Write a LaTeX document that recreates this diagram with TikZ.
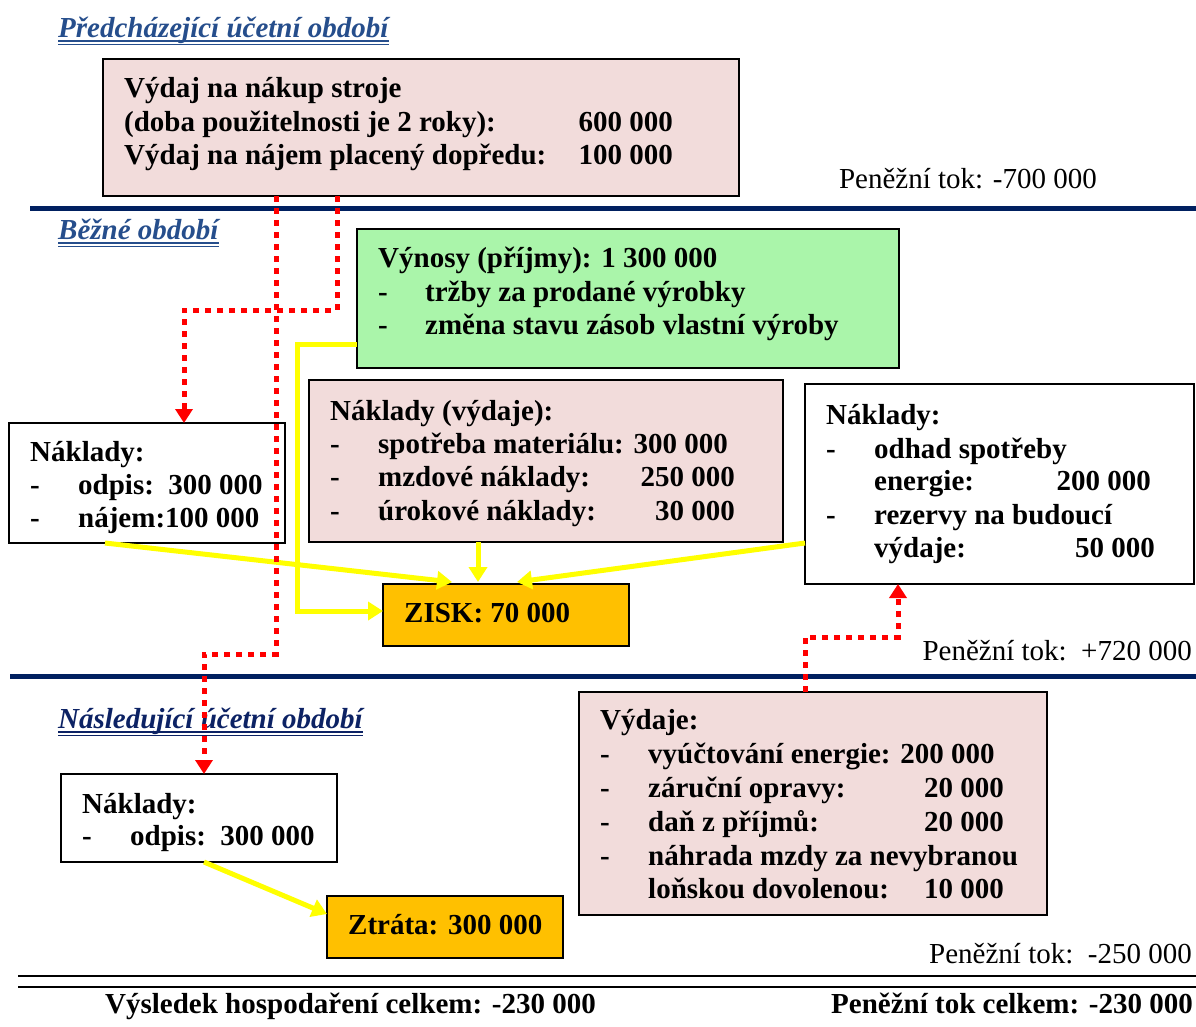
\documentclass[tikz,border=0pt]{standalone}
\usepackage{fontspec}
\setmainfont{Liberation Serif}
\usetikzlibrary{arrows.meta,calc}
\definecolor{pinkbox}{RGB}{242,220,219}
\definecolor{greenbox}{RGB}{170,245,170}
\definecolor{orangebox}{RGB}{255,192,0}
\definecolor{navy}{RGB}{0,32,96}
\definecolor{titleA}{RGB}{38,78,140}
\definecolor{titleB}{RGB}{12,34,100}
\definecolor{yel}{RGB}{255,255,0}
\definecolor{redd}{RGB}{255,0,0}
\begin{document}
\begin{tikzpicture}[x=1pt,y={(0pt,-1pt)},
  box/.style={draw=black, line width=1.5pt, inner sep=0pt, outer sep=0pt, anchor=north west},
  txt/.style={inner sep=0pt, anchor=base west, font=\fontsize{29}{33}\selectfont\bfseries},
  num/.style={inner sep=0pt, anchor=base east, font=\fontsize{29}{33}\selectfont\bfseries},
  reg/.style={inner sep=0pt, anchor=base east, font=\fontsize{29}{33}\selectfont},
  ttl/.style={inner sep=0pt, anchor=base west, font=\fontsize{29}{33}\selectfont\bfseries\itshape},
  navyline/.style={navy, line width=5pt},
  blackline/.style={black, line width=2.5pt},
  reddot/.style={redd, line width=5pt, dash pattern=on 6pt off 6pt, -{Triangle[width=17pt,length=14pt]}},
  yelarrow/.style={yel, line width=5pt, -{Triangle[width=18pt,length=15pt]}}
]
\useasboundingbox (0,0) rectangle (1196,1026);

% separator lines
\draw[navyline] (30,208) -- (1196,208);
\draw[navyline] (10,676) -- (1196,676);
\draw[blackline] (18,976) -- (1196,976);
\draw[blackline] (18,987) -- (1196,987);

% titles
\node[ttl, text=titleA] (t1) at (58,37) {Předcházející účetní období};
\draw[titleA, line width=1.5pt] ($(t1.base west)+(0,4)$) -- ($(t1.base east)+(0,4)$);
\draw[titleA, line width=1.5pt] ($(t1.base west)+(0,7.5)$) -- ($(t1.base east)+(0,7.5)$);
\node[ttl, text=titleA] (t2) at (58,239) {Běžné období};
\draw[titleA, line width=1.5pt] ($(t2.base west)+(0,4)$) -- ($(t2.base east)+(0,4)$);
\draw[titleA, line width=1.5pt] ($(t2.base west)+(0,7.5)$) -- ($(t2.base east)+(0,7.5)$);
\node[ttl, text=titleB] (t3) at (58,728) {Následující účetní období};
\draw[titleB, line width=1.5pt] ($(t3.base west)+(0,4)$) -- ($(t3.base east)+(0,4)$);
\draw[titleB, line width=1.5pt] ($(t3.base west)+(0,7.5)$) -- ($(t3.base east)+(0,7.5)$);

% box 1
\node[box, fill=pinkbox, minimum width=636pt, minimum height=137pt] (b1) at (103,59) {};
\node[txt] (b1a) at (124,97) {Výdaj na nákup stroje};
\node[txt] (b1b) at (124,131) {(doba použitelnosti je 2 roky):};
\node[num] (b1c) at (673,131) {600 000};
\node[txt] (b1d) at (124,164) {Výdaj na nájem placený dopředu:};
\node[num] (b1e) at (673,164) {100 000};
\node[reg] (pt1) at (1097,188) {Peněžní tok: -700 000};

% green box
\node[box, fill=greenbox, minimum width=542pt, minimum height=139pt] (gr) at (357,229) {};
\node[txt] (gra) at (378,267) {Výnosy (příjmy): 1 300 000};
\node[txt] (grb) at (378,301) {-};
\node[txt] (grc) at (425,301) {tržby za prodané výrobky};
\node[txt] (grd) at (378,334) {-};
\node[txt] (gre) at (425,334) {změna stavu zásob vlastní výroby};

% pink costs box
\node[box, fill=pinkbox, minimum width=474pt, minimum height=162pt] (nk) at (309,380) {};
\node[txt] (nka) at (330,420) {Náklady (výdaje):};
\node[txt] (nkb) at (330,453) {-};
\node[txt] (nkc) at (378,453) {spotřeba materiálu: 300 000};
\node[txt] (nkd) at (330,486) {-};
\node[txt] (nke) at (378,486) {mzdové náklady:};
\node[num] (nkf) at (735,486) {250 000};
\node[txt] (nkg) at (330,520) {-};
\node[txt] (nkh) at (378,520) {úrokové náklady:};
\node[num] (nki) at (735,520) {30 000};

% right costs box
\node[box, fill=white, minimum width=389pt, minimum height=200pt] (nr) at (805,384) {};
\node[txt] (nra) at (826,424) {Náklady:};
\node[txt] (nrb) at (826,458) {-};
\node[txt] (nrc) at (874,458) {odhad spotřeby};
\node[txt] (nrd) at (874,490) {energie:};
\node[num] (nre) at (1151,490) {200 000};
\node[txt] (nrf) at (826,524) {-};
\node[txt] (nrg) at (874,524) {rezervy na budoucí};
\node[txt] (nrh) at (874,557) {výdaje:};
\node[num] (nri) at (1155,557) {50 000};

% left costs box
\node[box, fill=white, minimum width=276pt, minimum height=120pt] (nl) at (9,423) {};
\node[txt] (nla) at (30,461) {Náklady:};
\node[txt] (nlb) at (30,494) {-};
\node[txt] (nlc) at (78,494) {odpis:\ \ 300 000};
\node[txt] (nld) at (30,527) {-};
\node[txt] (nle) at (78,527) {nájem:100 000};

% profit box
\node[box, fill=orangebox, minimum width=246pt, minimum height=62pt] (zisk) at (383,584) {};
\node[txt] (ziska) at (404,622) {ZISK: 70 000};
\node[reg] (pt2) at (1192,660) {Peněžní tok:\ \ +720 000};

% bottom-left costs box
\node[box, fill=white, minimum width=276pt, minimum height=88pt] (nb) at (61,774) {};
\node[txt] (nba) at (82,813) {Náklady:};
\node[txt] (nbb) at (82,845) {-};
\node[txt] (nbc) at (130,845) {odpis:\ \ 300 000};

% loss box
\node[box, fill=orangebox, minimum width=236pt, minimum height=62pt] (zt) at (327,896) {};
\node[txt] (zta) at (348,934) {Ztráta: 300 000};

% expenses box
\node[box, fill=pinkbox, minimum width=468pt, minimum height=223pt] (vy) at (579,692) {};
\node[txt] (vya) at (600,729) {Výdaje:};
\node[txt] (vyb) at (600,763) {-};
\node[txt] (vyc) at (648,763) {vyúčtování energie: 200 000};
\node[txt] (vyd) at (600,797) {-};
\node[txt] (vye) at (648,797) {záruční opravy:};
\node[num] (vyf) at (1004,797) {20 000};
\node[txt] (vyg) at (600,831) {-};
\node[txt] (vyh) at (648,831) {daň z příjmů:};
\node[num] (vyi) at (1004,831) {20 000};
\node[txt] (vyj) at (600,865) {-};
\node[txt] (vyk) at (648,865) {náhrada mzdy za nevybranou};
\node[txt] (vyl) at (648,898) {loňskou dovolenou:};
\node[num] (vym) at (1004,898) {10 000};
\node[reg] (pt3) at (1192,963) {Peněžní tok:\ \ -250 000};

% totals
\node[txt] (tota) at (105,1013) {Výsledek hospodaření celkem: -230 000};
\node[num] (totb) at (1193,1013) {Peněžní tok celkem: -230 000};

% yellow connectors
\coordinate (yd) at (297,344);
\draw[yelarrow] ($(nl.south west)+(96,0)$) -- ($(zisk.north west)+(69,-2)$);
\draw[yelarrow] ($(nk.south west)+(169,0)$) -- ($(zisk.north west)+(95,-2)$);
\draw[yelarrow] ($(nr.south west)+(0,-41)$) -- ($(zisk.north west)+(134,-2)$);
\draw[yelarrow] ($(gr.south west)+(0,-24)$) -- (yd) |- ($(zisk.west)+(0,-4)$);
\draw[yelarrow] ($(nb.south west)+(143,0)$) -- ($(zt.north west)+(0,18)$);

% red dotted connectors
\coordinate (k1) at (276,654);
\coordinate (k1b) at (204,654);
\coordinate (k2) at (337,310);
\coordinate (k2b) at (184,310);
\coordinate (k3) at (805,637);
\coordinate (k3b) at (898,637);
\draw[reddot] (b1.south -| k1) -- (k1) -- (k1b) -- (nb.north -| k1b);
\draw[reddot] (b1.south -| k2) -- (k2) -- (k2b) -- (nl.north -| k2b);
\draw[reddot] (vy.north -| k3) -- (k3) -- (k3b) -- (nr.south -| k3b);
\end{tikzpicture}
\end{document}
